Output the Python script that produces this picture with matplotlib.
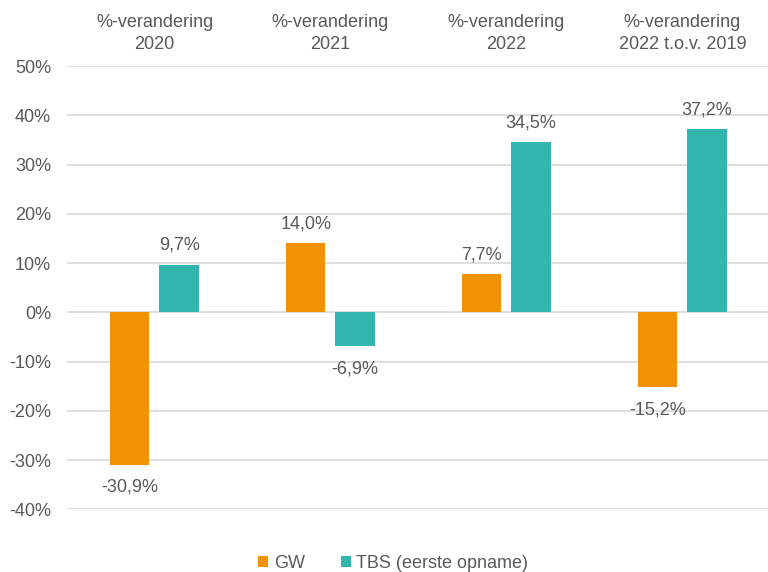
import numpy as np
import matplotlib.pyplot as plt
from matplotlib.transforms import blended_transform_factory

plt.rcParams['font.family'] = ['Liberation Sans', 'DejaVu Sans']

categories = ["%-verandering\n2020", "%-verandering\n2021", "%-verandering\n2022", "%-verandering\n2022 t.o.v. 2019"]
gw = [-30.9, 14.0, 7.7, -15.2]
tbs = [9.7, -6.9, 34.5, 37.2]
series_names = ["GW", "TBS (eerste opname)"]

orange = "#F39200"
teal = "#33B5B0"
grey = "#595959"
fs = 13

fig = plt.figure(figsize=(7.68, 5.72), dpi=100)
ax = fig.add_axes([0.0866, 0.1093, 0.9134, 0.7753])

x = np.arange(len(categories))
w = 0.224
off = 0.28
b1 = ax.bar(x - off / 2 - 0.001, gw, w, color=orange, label=series_names[0], zorder=3)
b2 = ax.bar(x + off / 2, tbs, w, color=teal, label=series_names[1], zorder=3)

def fmt(v):
    return f"{v:.1f}%".replace(".", ",")

for bars, vals in [(b1, gw), (b2, tbs)]:
    for b, v in zip(bars, vals):
        cx = b.get_x() + b.get_width() / 2
        if v >= 0:
            ax.annotate(fmt(v), (cx, v), xytext=(0, 14), textcoords="offset points",
                        ha="center", va="center", fontsize=fs, color=grey)
        else:
            ax.annotate(fmt(v), (cx, v), xytext=(0, -16), textcoords="offset points",
                        ha="center", va="center", fontsize=fs, color=grey)

ax.set_ylim(-40, 50)
ax.set_yticks(np.arange(-40, 51, 10))
ax.set_yticklabels([f"{t}%" for t in range(-40, 51, 10)], fontsize=fs, color=grey)
ax.set_xlim(-0.5, 3.486)
ax.set_xticks([])
ax.grid(axis="y", color="#D9D9D9", linewidth=1.2, zorder=0)
ax.tick_params(axis="y", length=0, pad=11)
for s in ax.spines.values():
    s.set_visible(False)

trans = blended_transform_factory(ax.transData, fig.transFigure)
for i, c in enumerate(categories):
    ax.text(i, 1 - 33.5 / 572, c, transform=trans, ha="center", va="center",
            fontsize=fs, color=grey, linespacing=1.32)

fig.legend(loc="center", bbox_to_anchor=(0.512, 1 - 563 / 572), ncol=2, frameon=False,
           fontsize=fs, handlelength=0.55, handleheight=0.55, handletextpad=0.3,
           columnspacing=2.0, labelcolor=grey)

fig.savefig("out.png", dpi=100)
